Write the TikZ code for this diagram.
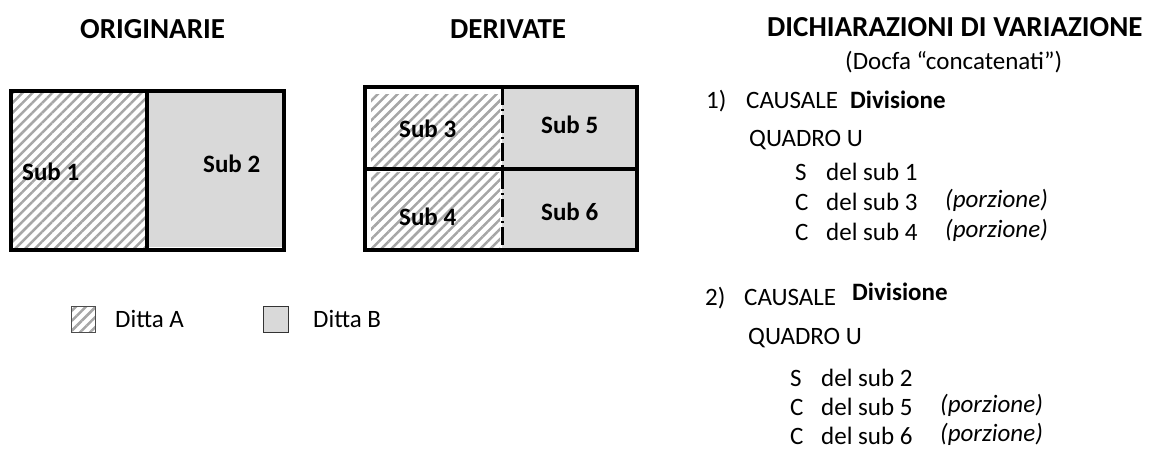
\documentclass[tikz,border=0pt]{standalone}
\usepackage{fontspec}
\setmainfont{Carlito}
\usetikzlibrary{patterns.meta}
\definecolor{fillB}{HTML}{D9D9D9}
\definecolor{stripe}{HTML}{A6A6A6}
\begin{document}
\begin{tikzpicture}[x=1pt,y=-1pt,
  title/.style={anchor=base west,inner sep=0pt,font=\fontsize{29}{35}\selectfont\bfseries},
  body/.style={anchor=base west,inner sep=0pt,font=\fontsize{25}{30}\selectfont},
  lbl/.style={anchor=base west,inner sep=0pt,font=\fontsize{25}{30}\selectfont\bfseries},
  por/.style={anchor=base west,inner sep=0pt,font=\fontsize{25}{30}\selectfont\itshape},
  hatchA/.style={pattern={Lines[angle=45,distance=7pt,line width=2.5pt]},pattern color=stripe},
  border/.style={draw=black,line width=4.3pt},
  dashdot/.style={draw=black,line width=3pt,dash pattern=on 18pt off 4pt on 2pt off 4pt},
]
\useasboundingbox (0,0) rectangle (1150,452);
% titles
\node[title] (t1) at (80,38) {ORIGINARIE};
\node[title] (t2) at (450,38) {DERIVATE};
\node[title] (t3) at (767,37) {DICHIARAZIONI DI VARIAZIONE};
% originarie
\path[hatchA] (11,91) rectangle (147,250);
\fill[fillB] (147,91) rectangle (284,247);
\draw[border] (11,91) rectangle (284,250);
\draw[border] (147,91) -- (147,250);
\node[lbl] (s1) at (22,180) {Sub 1};
\node[lbl] (s2) at (203,172) {Sub 2};
% derivate
\fill[fillB] (502,87) rectangle (637,250);
\path[hatchA] (371,94) rectangle (500,166);
\path[hatchA] (371,172) rectangle (500,247);
\draw[border] (365,87) rectangle (637,250);
\draw[border] (365,169) -- (637,169);
\draw[dashdot] (502,87) -- (502,250);
\node[lbl] (s3) at (399,137) {Sub 3};
\node[lbl] (s5) at (541,133) {Sub 5};
\node[lbl] (s4) at (399,225) {Sub 4};
\node[lbl] (s6) at (541,220) {Sub 6};
% legend
\path[hatchA,draw=black!70,line width=1pt] (71,306) rectangle (95,332);
\path[fill=fillB,draw=black!80,line width=1pt] (263,306) rectangle (288,332);
\node[body] (la) at (115,327) {Ditta A};
\node[body] (lb) at (313,327) {Ditta B};
% right column, block 1
\node[body] (docfa) at (845,70) {(Docfa “concatenati”)};
\node[body] (n1) at (706,108) {1)};
\node[body] (c1) at (746,108) {CAUSALE};
\node[lbl] (d1) at (850,108) {Divisione};
\node[body] (q1) at (749,146) {QUADRO U};
\node[body] (a1) at (795,180) {S};
\node[body] (a1t) at (826,180) {del sub 1};
\node[body] (b1) at (795,210) {C};
\node[body] (b1t) at (826,210) {del sub 3};
\node[por] (b1p) at (945,207) {(porzione)};
\node[body] (e1) at (795,240) {C};
\node[body] (e1t) at (826,240) {del sub 4};
\node[por] (e1p) at (945,237) {(porzione)};
% block 2
\node[body] (n2) at (705,305) {2)};
\node[body] (c2) at (744,305) {CAUSALE};
\node[lbl] (d2) at (852,300) {Divisione};
\node[body] (q2) at (748,344) {QUADRO U};
\node[body] (a2) at (790,386) {S};
\node[body] (a2t) at (821,386) {del sub 2};
\node[body] (b2) at (790,415) {C};
\node[body] (b2t) at (821,415) {del sub 5};
\node[por] (b2p) at (940,412) {(porzione)};
\node[body] (e2) at (790,444) {C};
\node[body] (e2t) at (821,444) {del sub 6};
\node[por] (e2p) at (940,441) {(porzione)};
\end{tikzpicture}
\end{document}
